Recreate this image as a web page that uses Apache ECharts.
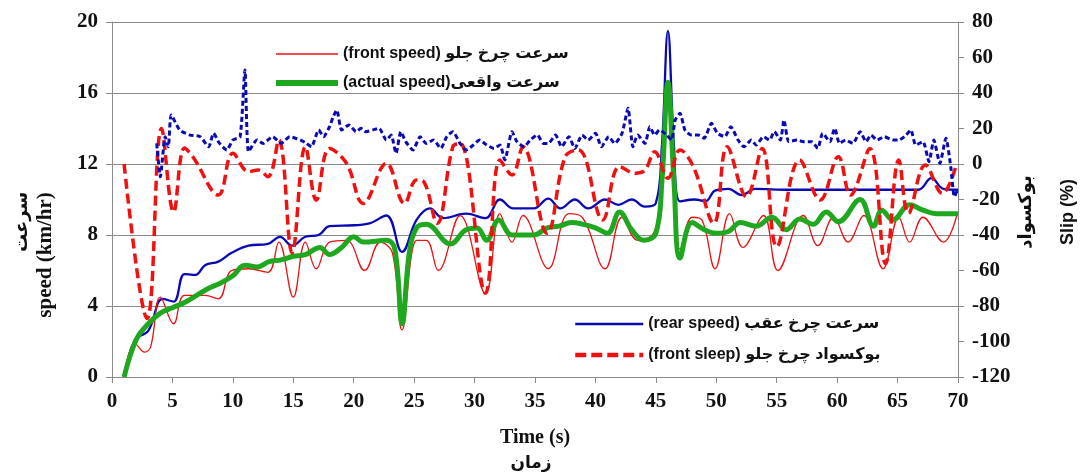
<!DOCTYPE html>
<html>
<head>
<meta charset="utf-8">
<script src="https://cdn.jsdelivr.net/npm/echarts@6/dist/echarts.min.js"></script>
<style>
  html, body { margin: 0; padding: 0; background: #fff; }
  #chart { width: 1083px; height: 475px; }
</style>
</head>
<body>
<div id="chart"></div>
<script>
// series values as [time (s), value]
var frontSpeed = [[1,0],[1.9,1.9],[2.7,1.4],[3.2,1.7],[4.0,4.5],[5.1,3.0],[6.0,4.6],[7.7,4.6],[8.8,4.4],[9.9,6.0],[11.3,6.1],[12.9,5.9],[13.8,7.6],[15.0,4.5],[16.0,7.6],[16.9,6.1],[18.0,7.6],[19.4,7.7],[20.9,6.0],[22.2,7.6],[23.2,7.0],[24.0,2.65],[25.2,7.7],[26.0,7.7],[27.0,6.0],[28.8,9.1],[30.9,4.7],[32.1,9.2],[33.1,7.6],[34.0,9.1],[36.1,6.1],[37.8,9.2],[38.9,9.0],[40.8,6.1],[42.2,9.0],[43.5,7.7],[44.8,8.1],[45.4,10],[46,16],[46.6,10],[47.0,7.2],[48.0,9.0],[48.8,8.85],[49.9,6.1],[51.1,9.2],[52.2,7.3],[53.9,9.1],[55.1,6.0],[57.2,9.1],[58.4,7.4],[59.7,9.0],[60.9,7.6],[62.2,9.1],[63.8,6.1],[65.1,9.0],[66.0,7.6],[67.1,9.0],[68.8,7.6],[69.9,9.1]];

var actualSpeed = [[1,0],[2,2.1],[3,3.0],[4,3.6],[5,3.9],[6,4.2],[7,4.6],[8,5.0],[9,5.3],[10,5.7],[11,6.3],[12,6.2],[13,6.5],[14,6.6],[15,6.8],[16,6.9],[17.2,7.3],[18,6.9],[19,7.3],[20,7.9],[20.8,7.6],[22.7,7.7],[23.4,7.2],[24,3.0],[24.6,7.0],[25.2,8.4],[26,8.6],[28,7.5],[29.3,8.3],[30.2,8.4],[31,7.7],[32,8.85],[33.1,8.0],[34.9,8.0],[36,8.4],[37,8.5],[38,8.7],[39,8.6],[40,8.4],[41,8.1],[42,9.3],[43,8.3],[44,7.7],[45,8.1],[45.5,11],[46,16.6],[46.5,11],[47,6.7],[48,8.7],[49,8.3],[50,8.1],[51,8.2],[52,8.7],[53.3,8.5],[54.6,9.0],[55.8,8.3],[56.9,8.9],[58,8.6],[59.1,9.3],[60.1,8.75],[61.9,10.0],[63,8.5],[63.7,9.4],[64.6,8.85],[66,9.7],[67.1,9.4],[68.2,9.2],[70,9.2]];

var rearSpeed = [[1,0],[1.9,2.1],[3.0,2.6],[4.2,4.4],[5.1,4.25],[6.0,5.8],[6.9,5.75],[7.7,6.3],[8.8,6.5],[9.9,7.0],[11.3,7.4],[12.9,7.5],[13.9,7.9],[14.9,7.4],[16.0,7.9],[17.1,8.0],[18.0,8.5],[20.0,8.55],[21.3,8.65],[22.7,9.1],[24.0,7.05],[25.2,8.85],[26.3,9.5],[27.4,8.95],[29.3,9.2],[30.9,8.95],[32.1,10.0],[33.2,9.5],[34.9,9.5],[36.1,10.05],[37.1,9.5],[38.3,10.0],[39.4,9.5],[40.8,10.0],[41.9,9.7],[43.0,10.0],[44.1,9.6],[45.0,9.8],[45.5,13],[46,19.5],[46.5,13],[47.0,9.9],[48.2,10.0],[49.1,9.9],[49.9,10.5],[51.0,10.6],[52.1,10.25],[53.2,10.6],[56,10.55],[60,10.55],[63,10.55],[66.7,10.55],[67.8,11.2],[68.8,10.6],[70,10.55]];

var frontSlip = [[1,0],[2.9,-87],[4.1,20],[5.1,-27],[6.0,9],[6.7,4],[8.8,-17.5],[10.0,6],[11.3,-4.3],[12.1,-3.4],[12.9,-7.2],[13.8,13.5],[14.9,-50],[16.0,9.7],[16.9,-20.3],[18.0,8.8],[19.4,0.4],[20.8,-22.2],[22.7,0.4],[24.2,-22.2],[25.2,-9],[25.8,-10],[26.9,-33.4],[28.2,9.7],[28.8,11.7],[30.9,-72.8],[32.1,2.3],[33.1,-6.2],[34.0,9.7],[36.0,-39],[37.5,4.1],[38.6,7.9],[40.6,-31.5],[42.0,-1.5],[43.3,-5.2],[44.1,-3.4],[44.9,6.9],[46.0,-8],[47.0,7.9],[48.1,-1.5],[49.8,-33.4],[50.9,9.7],[52.5,-18.4],[53.8,8.8],[55.0,-46.6],[56.9,2.3],[58.6,-20.3],[60.1,4.1],[61.1,-17.5],[62.7,8.8],[64.0,-56],[65.1,2.3],[65.9,-27.8],[67.3,-0.6],[68.7,-16.6],[69.9,0.4]];

var rearSlip = [[3.7,11.6],[4.0,-7.2],[4.4,15.4],[4.66,9.7],[4.9,27.6],[5.6,19.2],[6.45,16.3],[7.3,15.4],[8.0,9.7],[8.4,17.3],[8.9,11.6],[9.5,7.9],[10.0,13.5],[10.6,15.4],[11.0,53],[11.3,6.9],[12.0,13.5],[12.5,11.6],[13.3,15.4],[14.0,11.6],[14.7,15.4],[15.6,13.5],[16.1,11.6],[16.5,9.7],[17.1,19.2],[17.5,15.4],[18.0,21],[18.3,26.6],[18.6,30.4],[19.0,19.2],[19.6,22],[20.2,18.2],[20.6,20.1],[21.0,18.2],[21.6,19.2],[22.1,20.1],[22.7,13.5],[23.1,16.3],[23.5,6],[23.9,18.2],[24.3,12.6],[24.9,7.9],[25.5,15.4],[26.0,11.6],[26.6,13.5],[27.2,8.8],[27.7,15.4],[28.2,18.2],[28.8,11.6],[29.3,7.9],[29.9,10.7],[30.4,13.5],[31.0,10.7],[31.6,8.8],[32.1,10.7],[32.5,2.3],[33.1,18.2],[33.5,12.6],[34.1,9.7],[34.6,13.5],[35.2,16.3],[35.7,11.6],[36.1,11.6],[36.7,16.3],[37.2,9.7],[37.8,15.4],[38.3,8.8],[38.9,16.3],[39.4,13.5],[40.0,17.3],[40.5,9.7],[41.1,15.4],[41.6,11.6],[42.2,17.3],[42.7,31.4],[43.1,9.7],[43.5,16.3],[44.1,11.6],[44.5,21.0],[44.9,16.3],[45.3,19.2],[45.9,16.3],[46.3,13.5],[46.6,24.8],[47.0,28.6],[47.4,19.2],[47.9,16.3],[48.5,16.3],[49.0,14.5],[49.6,22.9],[50.1,17.3],[50.7,15.4],[51.2,21.0],[51.8,13.5],[52.3,9.7],[52.9,13.5],[53.3,10.7],[53.9,15.4],[54.4,13.5],[54.8,18.2],[55.3,13.5],[55.6,24.8],[56.0,12.6],[56.7,13.5],[57.2,12.6],[57.9,12.6],[58.4,8.8],[58.8,17.3],[59.4,12.6],[59.8,20.1],[60.2,11.6],[60.7,13.5],[61.3,11.6],[61.9,18.2],[62.4,12.6],[62.8,16.3],[63.3,13.5],[63.9,15.4],[64.6,13.5],[65.1,13.5],[65.7,16.3],[66.1,19.2],[66.5,10.7],[67.1,12.6],[67.6,1.3],[68.0,13.5],[68.5,0.4],[69.0,14.5],[69.4,-1.5],[69.7,-18.4],[70,-14]];

var names = {
    front: '(front speed) سرعت چرخ جلو',
    actual: '(actual speed)سرعت واقعی',
    rear: '(rear speed) سرعت چرخ عقب',
    slip: '(front sleep) بوکسواد چرخ جلو',
    rearSlip: 'rear slip'
};

var axisGray = '#8a8a8a';
var serif = '"Liberation Serif", "DejaVu Serif", serif';
var sans = '"Liberation Sans", "DejaVu Sans", sans-serif';

var myChart = echarts.init(document.getElementById('chart'));

var legendText = { fontFamily: sans, fontWeight: 'bold', fontSize: 16, color: '#111' };

var option = {
    animation: false,
    backgroundColor: '#fff',
    grid: { left: 112, right: 125, top: 22, bottom: 98 },
    legend: [
        {
            data: [
                { name: names.front, lineStyle: { width: 1.5 } },
                { name: names.actual, lineStyle: { width: 6 } }
            ],
            orient: 'vertical',
            left: 273, top: 46, padding: 0,
            itemWidth: 62, itemHeight: 14, itemGap: 13,
            itemStyle: { opacity: 0 },
            textStyle: legendText
        },
        {
            data: [
                { name: names.rear, lineStyle: { width: 2.5 } },
                { name: names.slip, lineStyle: { width: 4.5, type: [11, 5] } }
            ],
            orient: 'vertical',
            left: 573, top: 316, padding: 0,
            itemWidth: 68, itemHeight: 14, itemGap: 15,
            itemStyle: { opacity: 0 },
            textStyle: legendText
        }
    ],
    xAxis: {
        type: 'value', min: 0, max: 70, interval: 5,
        axisLine: { lineStyle: { color: axisGray } },
        axisTick: { length: 6, lineStyle: { color: axisGray } },
        splitLine: { show: false },
        axisLabel: { color: '#111', fontFamily: serif, fontWeight: 'bold', fontSize: 21, margin: 14 }
    },
    yAxis: [
        {
            type: 'value', min: 0, max: 20, interval: 4,
            axisLine: { show: true, lineStyle: { color: axisGray } },
            axisTick: { show: true, length: 6, lineStyle: { color: axisGray } },
            splitLine: { lineStyle: { color: axisGray } },
            axisLabel: { color: '#111', fontFamily: serif, fontWeight: 'bold', fontSize: 21, margin: 14 }
        },
        {
            type: 'value', min: -120, max: 80, interval: 20, position: 'right',
            axisLine: { show: true, lineStyle: { color: axisGray } },
            axisTick: { show: true, length: 6, lineStyle: { color: axisGray } },
            splitLine: { show: false },
            axisLabel: { color: '#111', fontFamily: serif, fontWeight: 'bold', fontSize: 21, margin: 14 }
        }
    ],
    graphic: [
        { type: 'text', x: 535, y: 438, style: { text: 'Time (s)', textAlign: 'center', textVerticalAlign: 'middle', align: 'center', verticalAlign: 'middle', fontFamily: serif, fontWeight: 'bold', fontSize: 20, fill: '#111' } },
        { type: 'text', x: 531, y: 463, style: { text: 'زمان', textAlign: 'center', textVerticalAlign: 'middle', align: 'center', verticalAlign: 'middle', fontFamily: sans, fontWeight: 'bold', fontSize: 17, fill: '#111' } },
        { type: 'text', x: 46, y: 255, rotation: Math.PI / 2, style: { text: 'speed (km/hr)', textAlign: 'center', textVerticalAlign: 'middle', align: 'center', verticalAlign: 'middle', fontFamily: serif, fontWeight: 'bold', fontSize: 21, fill: '#111' } },
        { type: 'text', x: 22, y: 222, rotation: Math.PI / 2, style: { text: 'سرعت', textAlign: 'center', textVerticalAlign: 'middle', align: 'center', verticalAlign: 'middle', fontFamily: sans, fontWeight: 'bold', fontSize: 18, fill: '#111' } },
        { type: 'text', x: 1026, y: 212, rotation: Math.PI / 2, style: { text: 'بوکسواد', textAlign: 'center', textVerticalAlign: 'middle', align: 'center', verticalAlign: 'middle', fontFamily: sans, fontWeight: 'bold', fontSize: 18, fill: '#111' } },
        { type: 'text', x: 1068, y: 212, rotation: Math.PI / 2, style: { text: 'Slip (%)', textAlign: 'center', textVerticalAlign: 'middle', align: 'center', verticalAlign: 'middle', fontFamily: sans, fontWeight: 'bold', fontSize: 18, fill: '#111' } }
    ],
    series: [
        {
            name: names.rear, type: 'line', yAxisIndex: 0, data: rearSpeed,
            symbol: 'none', smooth: 0.4,
            lineStyle: { color: '#0a0ab4', width: 2.3 }, itemStyle: { color: '#0a0ab4' }
        },
        {
            name: names.front, type: 'line', yAxisIndex: 0, data: frontSpeed,
            symbol: 'none', smooth: 0.4,
            lineStyle: { color: '#ee1111', width: 1.3 }, itemStyle: { color: '#ee1111' }
        },
        {
            name: names.actual, type: 'line', yAxisIndex: 0, data: actualSpeed,
            symbol: 'none', smooth: 0.4,
            lineStyle: { color: '#1fa81f', width: 5 }, itemStyle: { color: '#1fa81f' }
        },
        {
            name: names.slip, type: 'line', yAxisIndex: 1, data: frontSlip,
            symbol: 'none', smooth: 0.4,
            lineStyle: { color: '#f01010', width: 3.5, type: [10, 5] }, itemStyle: { color: '#f01010' }
        },
        {
            name: names.rearSlip, type: 'line', yAxisIndex: 1, data: rearSlip,
            symbol: 'none', smooth: 0.2,
            lineStyle: { color: '#0a0ab4', width: 3, type: [5, 3] }, itemStyle: { color: '#0a0ab4' }
        }
    ]
};

myChart.setOption(option);
</script>
</body>
</html>
